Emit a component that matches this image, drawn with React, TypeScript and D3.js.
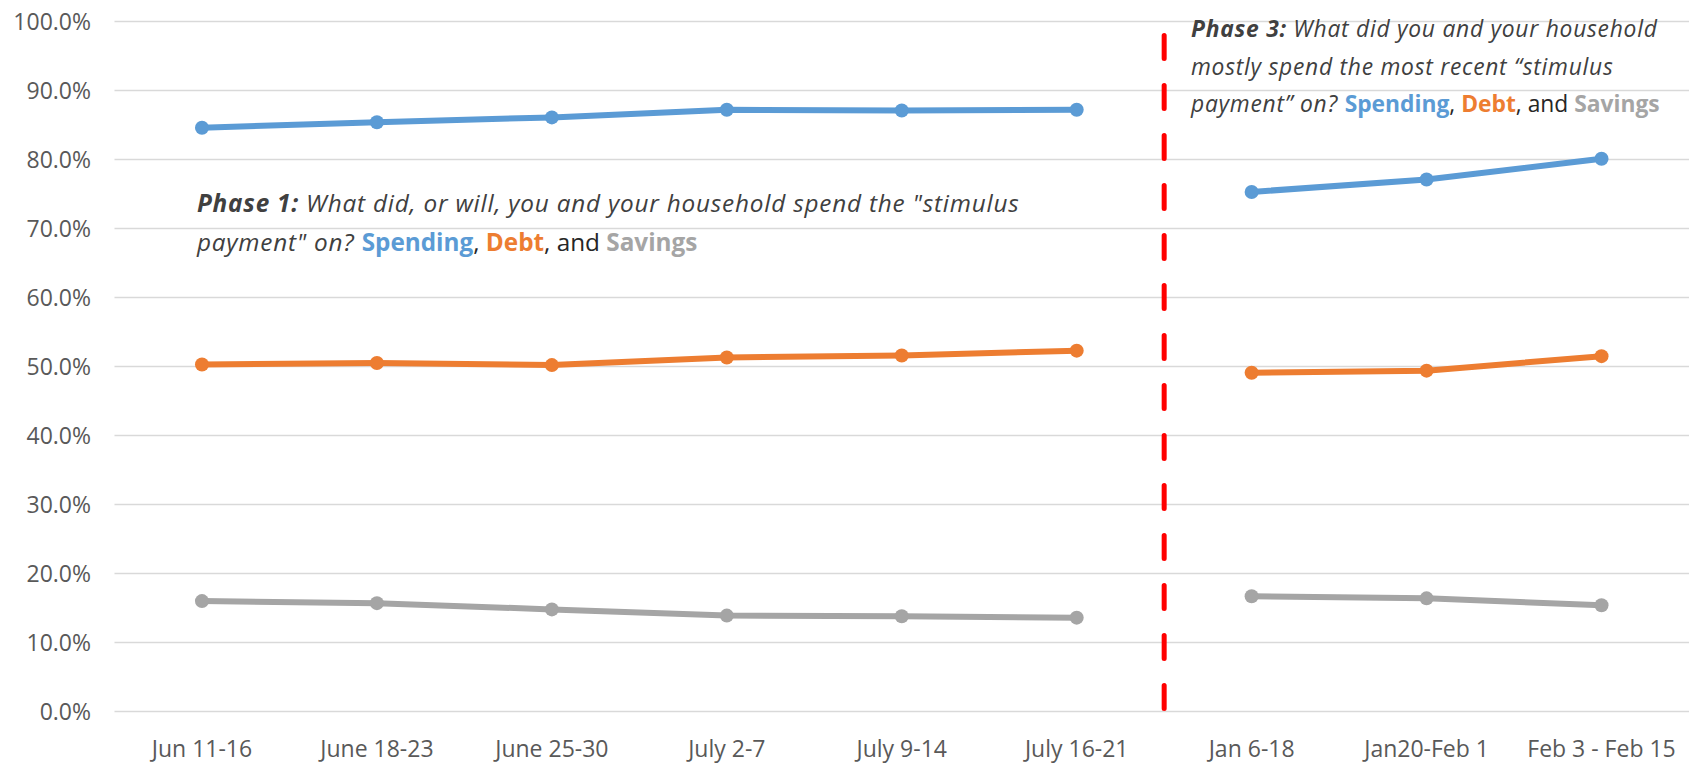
import React from 'react';
import * as d3 from 'd3';

const categories = [
  'Jun 11-16', 'June 18-23', 'June 25-30', 'July 2-7', 'July 9-14', 'July 16-21',
  'Jan 6-18', 'Jan20-Feb 1', 'Feb 3 - Feb 15',
];
// first 6 weeks are Phase 1, last 3 are Phase 3
const phase1Count = 6;

const spending = [84.6, 85.4, 86.1, 87.2, 87.1, 87.2, 75.3, 77.1, 80.1];
const debt = [50.3, 50.5, 50.2, 51.3, 51.6, 52.3, 49.1, 49.4, 51.5];
const savings = [16.0, 15.7, 14.8, 13.9, 13.8, 13.6, 16.7, 16.4, 15.4];

const yTicks = [0, 10, 20, 30, 40, 50, 60, 70, 80, 90, 100];

const series = [
  { name: 'Spending', values: spending, color: '#5B9BD5' },
  { name: 'Debt', values: debt, color: '#ED7D31' },
  { name: 'Savings', values: savings, color: '#A5A5A5' },
];

const W = 1698;
const H = 764;
const margin = { top: 21.5, right: 9, bottom: 52.5, left: 114.5 };
const FONT = '"Open Sans", "DejaVu Sans", sans-serif';

// legend-ish second line shared by both notes
const Keys = () => (
  <>
    <tspan fontWeight="bold" fill="#5B9BD5">Spending</tspan>
    <tspan fill="#262626">, </tspan>
    <tspan fontWeight="bold" fill="#ED7D31">Debt</tspan>
    <tspan fill="#262626">, and </tspan>
    <tspan fontWeight="bold" fill="#A5A5A5">Savings</tspan>
  </>
);

const App = () => {
  const x = d3.scalePoint<string>()
    .domain(categories)
    .range([margin.left, W - margin.right])
    .padding(0.5);
  const y = d3.scaleLinear()
    .domain([0, 100])
    .range([H - margin.bottom, margin.top]);

  const line = d3.line<[string, number]>()
    .x(d => x(d[0]) as number)
    .y(d => y(d[1]));

  const breakX = ((x(categories[phase1Count - 1]) as number) + (x(categories[phase1Count]) as number)) / 2;
  const fmt = (v: number) => v.toFixed(1) + '%';

  const note1 = { fontFamily: FONT, fontSize: 24.3, fill: '#404040' };
  const note3 = { fontFamily: FONT, fontSize: 22.8, fill: '#404040' };
  const it1 = { fontStyle: 'italic', letterSpacing: 0.8 };
  const it3 = { fontStyle: 'italic', letterSpacing: 0.75 };

  return (
    <svg width={W} height={H} style={{ position: 'absolute', left: 0, top: 0, background: '#fff' }}>
      {/* gridlines + y labels */}
      <g>
        {yTicks.map(t => (
          <g key={t}>
            <line x1={margin.left} x2={W - margin.right} y1={y(t)} y2={y(t)} stroke="#d9d9d9" strokeWidth={1.5} />
            <text x={91} y={y(t)} dy="0.36em" textAnchor="end" fontFamily={FONT} fontSize={23} fill="#595959">
              {fmt(t)}
            </text>
          </g>
        ))}
      </g>

      {/* x labels */}
      <g>
        {categories.map(c => (
          <text key={c} x={x(c)} y={757} textAnchor="middle" fontFamily={FONT} fontSize={23} fill="#595959">
            {c}
          </text>
        ))}
      </g>

      {/* phase divider */}
      <line x1={breakX} x2={breakX} y1={33} y2={y(0)} stroke="#ff0000" strokeWidth={5}
        strokeDasharray="23 27" strokeLinecap="round" transform="translate(0,2.5)" />

      {/* series */}
      {series.map(s => {
        const pts = categories.map((c, i) => [c, s.values[i]] as [string, number]);
        const parts = [pts.slice(0, phase1Count), pts.slice(phase1Count)];
        return (
          <g key={s.name}>
            {parts.map((p, i) => (
              <path key={i} d={line(p) || ''} fill="none" stroke={s.color} strokeWidth={6} strokeLinejoin="round" />
            ))}
            {pts.map(p => (
              <circle key={p[0]} cx={x(p[0])} cy={y(p[1])} r={7} fill={s.color} />
            ))}
          </g>
        );
      })}

      {/* Phase 1 note */}
      <text x={197} y={212} {...note1}>
        <tspan fontWeight="bold" {...it1}>Phase 1:</tspan>
        <tspan {...it1}> What did, or will, you and your household spend the "stimulus</tspan>
      </text>
      <text x={197} y={251} {...note1}>
        <tspan {...it1}>payment" on? </tspan>
        <Keys />
      </text>

      {/* Phase 3 note */}
      <text x={1191} y={37} {...note3}>
        <tspan fontWeight="bold" {...it3}>Phase 3:</tspan>
        <tspan {...it3}> What did you and your household</tspan>
      </text>
      <text x={1191} y={75} {...note3}>
        <tspan {...it3}>mostly spend the most recent “stimulus</tspan>
      </text>
      <text x={1191} y={112} {...note3}>
        <tspan {...it3}>payment” on? </tspan>
        <Keys />
      </text>
    </svg>
  );
};

export default App;
